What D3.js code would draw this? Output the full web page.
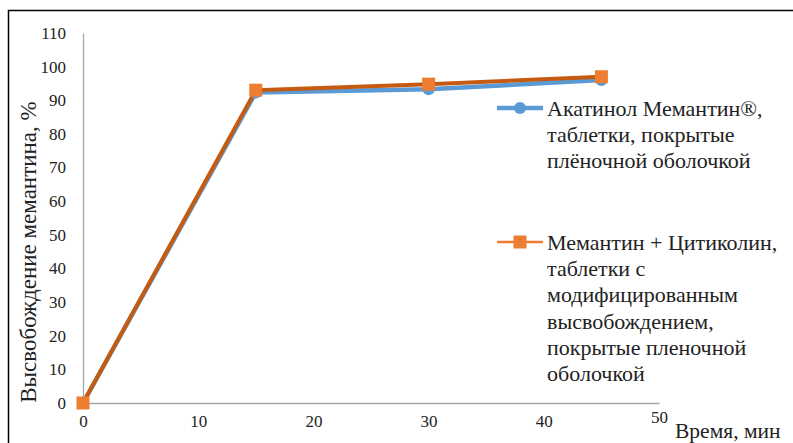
<!DOCTYPE html>
<html><head><meta charset="utf-8">
<script src="https://cdn.jsdelivr.net/npm/d3@7"></script>
</head><body style="margin:0;background:#fff"><svg id="c" width="793" height="443"></svg>
<script>
const times = [0, 15, 30, 45];
const seriesNames = [
  ["Акатинол Мемантин®,", "таблетки, покрытые", "плёночной оболочкой"],
  ["Мемантин + Цитиколин,", "таблетки с", "модифицированным", "высвобождением,", "покрытые пленочной", "оболочкой"]
];
const akatinol = [0, 92.3, 93.3, 96.0];
const memCit = [0, 93.0, 94.8, 97.0];
const yTicks = [0, 10, 20, 30, 40, 50, 60, 70, 80, 90, 100, 110];
const xTicks = [0, 10, 20, 30, 40, 50];
const xTitle = "Время, мин";
const yTitle = "Высвобождение мемантина, %";
const FONT = "Liberation Serif, Times New Roman, serif";

const svg = d3.select("#c");
svg.append("rect").attr("x", 8.5).attr("y", 10.5).attr("width", 800).attr("height", 450)
  .attr("fill", "none").attr("stroke", "#000").attr("stroke-width", 1.5);

const x = d3.scaleLinear().domain([0, 50]).range([83, 659]);
const y = d3.scaleLinear().domain([0, 110]).range([403, 33]);

const yAxis = svg.append("g").attr("transform", "translate(83,0)")
  .call(d3.axisLeft(y).tickValues(yTicks).tickSize(0).tickPadding(17));
yAxis.attr("font-family", FONT).attr("font-size", 17);
yAxis.select(".domain").attr("stroke", "#a6a6a6").attr("stroke-width", 1.3);
yAxis.selectAll("text").attr("font-family", FONT).attr("font-size", 17).attr("fill", "#222");

const xAxis = svg.append("g").attr("transform", "translate(0,403)")
  .call(d3.axisBottom(x).tickValues(xTicks).tickSize(0).tickPadding(12));
xAxis.attr("font-family", FONT).attr("font-size", 17);
xAxis.select(".domain").attr("stroke", "#a6a6a6").attr("stroke-width", 1.3);
xAxis.selectAll("text").attr("font-family", FONT).attr("font-size", 17).attr("fill", "#222")
  .attr("dy", d => d === 50 ? "0.45em" : "0.71em");

svg.append("text").attr("x", 675).attr("y", 438).attr("font-family", FONT).attr("font-size", 21.5)
  .attr("fill", "#222").text(xTitle);
svg.append("text").attr("transform", "translate(36,252) rotate(-90)").attr("text-anchor", "middle")
  .attr("font-family", FONT).attr("font-size", 23).attr("fill", "#222").text(yTitle);

const line = d3.line().x((d, i) => x(times[i])).y(d => y(d));
svg.append("path").datum(akatinol).attr("d", line).attr("fill", "none")
  .attr("stroke", "#5b9bd5").attr("stroke-width", 4.5).attr("stroke-linejoin", "round");
svg.append("path").datum(memCit).attr("d", line).attr("fill", "none")
  .attr("stroke", "#c55a11").attr("stroke-width", 4).attr("stroke-linejoin", "round");
svg.selectAll(".m1").data(akatinol).enter().append("circle")
  .attr("cx", (d, i) => x(times[i])).attr("cy", d => y(d)).attr("r", 6).attr("fill", "#5b9bd5");
svg.selectAll(".m2").data(memCit).enter().append("rect")
  .attr("x", (d, i) => x(times[i]) - 6.5).attr("y", d => y(d) - 6.5)
  .attr("width", 13).attr("height", 13).attr("fill", "#ed7d31");

// legend
const lg = svg.append("g");
const ly = [108, 242];
lg.append("line").attr("x1", 497).attr("x2", 543).attr("y1", ly[0]).attr("y2", ly[0])
  .attr("stroke", "#5b9bd5").attr("stroke-width", 4.5);
lg.append("circle").attr("cx", 520).attr("cy", ly[0]).attr("r", 6).attr("fill", "#5b9bd5");
lg.append("line").attr("x1", 497).attr("x2", 543).attr("y1", ly[1]).attr("y2", ly[1])
  .attr("stroke", "#ed7d31").attr("stroke-width", 2.5);
lg.append("rect").attr("x", 513.5).attr("y", ly[1] - 6.5).attr("width", 13).attr("height", 13).attr("fill", "#ed7d31");
seriesNames.forEach((lines, k) => {
  lines.forEach((s, j) => lg.append("text").attr("x", 547).attr("y", ly[k] + j * 26.3).attr("dy", "0.35em")
    .attr("font-family", FONT).attr("font-size", 22).attr("fill", "#222").text(s));
});
</script></body></html>
